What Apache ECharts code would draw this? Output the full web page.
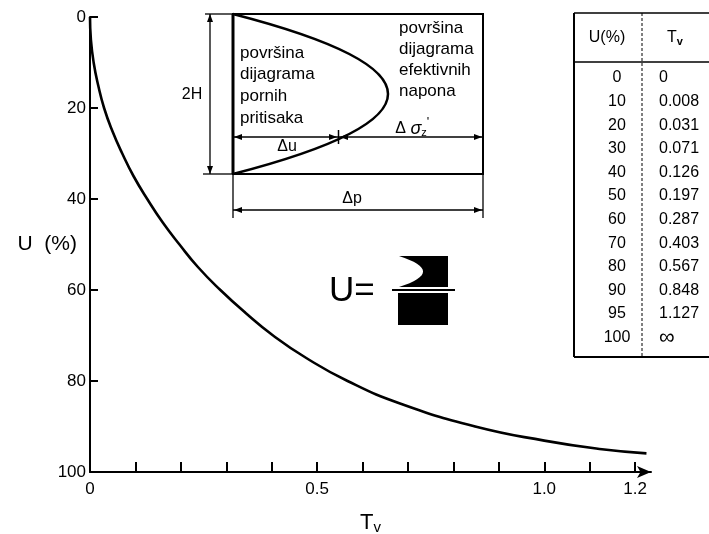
<!DOCTYPE html>
<html>
<head>
<meta charset="UTF-8">
<script src="https://cdn.jsdelivr.net/npm/echarts@6/dist/echarts.min.js"></script>
<style>
  html, body { margin: 0; padding: 0; background: #fff; }
  #main { width: 709px; height: 534px; }
</style>
</head>
<body>
<div id="main"></div>
<script type="text/javascript">
// curve U(%) vs Tv
var tv = [0, 0.002, 0.008, 0.018, 0.031, 0.049, 0.071, 0.096, 0.126, 0.159, 0.197, 0.238, 0.287, 0.342, 0.403, 0.477, 0.567, 0.684, 0.848, 1.0, 1.127, 1.225];
var u  = [0, 5, 10, 15, 20, 25, 30, 35, 40, 45, 50, 55, 60, 65, 70, 75, 80, 85, 90, 93.1, 95, 95.9];

var xTicks  = [0, 0.1, 0.2, 0.3, 0.4, 0.5, 0.6, 0.7, 0.8, 0.9, 1.0, 1.1, 1.2];
var xLabels = [0, 0.5, 1.0, 1.2];

// table on the right
var tableU  = ['0', '10', '20', '30', '40', '50', '60', '70', '80', '90', '95', '100'];
var tableTv = ['0', '0.008', '0.031', '0.071', '0.126', '0.197', '0.287', '0.403', '0.567', '0.848', '1.127', '\u221E'];

var FONT = '"Liberation Sans", Arial, Helvetica, sans-serif';

function ln(x1, y1, x2, y2, w, dash) {
    return { type: 'line', shape: { x1: x1, y1: y1, x2: x2, y2: y2 },
             style: { stroke: '#000', lineWidth: w || 1.3, lineDash: dash || null }, z: 10 };
}
// arrow head, tip at (x,y)
function arr(x, y, dir) {
    var L = 8, W = 3;
    var p;
    if (dir == 'l') p = [[x, y], [x + L, y - W], [x + L, y + W]];
    if (dir == 'r') p = [[x, y], [x - L, y - W], [x - L, y + W]];
    if (dir == 'u') p = [[x, y], [x - W, y + L], [x + W, y + L]];
    if (dir == 'd') p = [[x, y], [x - W, y - L], [x + W, y - L]];
    return { type: 'polygon', shape: { points: p }, style: { fill: '#000' }, z: 10 };
}
function txt(s, x, y, size, align, rich) {
    return { type: 'text', z: 10,
             style: { text: s, x: x, y: y, fill: '#000', font: size + 'px ' + FONT,
                      textAlign: align || 'left', textVerticalAlign: 'middle', rich: rich } };
}

var g = [];

// inset diagram
g.push({ type: 'rect', shape: { x: 233, y: 14, width: 250, height: 160 },
         style: { fill: 'none', stroke: '#000', lineWidth: 2 }, z: 10 });
g.push(ln(233, 14, 233, 174, 3));
g.push({ type: 'bezierCurve', shape: { x1: 233, y1: 14, cpx1: 543, cpy1: 94, x2: 233, y2: 174 },
         style: { stroke: '#000', lineWidth: 2.5, fill: 'none' }, z: 10 });
// 2H
g.push(ln(205, 14, 233, 14));
g.push(ln(203, 174, 233, 174));
g.push(ln(210, 14, 210, 174));
g.push(arr(210, 14, 'u'));
g.push(arr(210, 174, 'd'));
g.push(txt('2H', 192, 95, 16, 'center'));
// delta u / delta sigma
g.push(ln(233, 137, 483, 137));
g.push(arr(234, 137, 'l'));
g.push(arr(482, 137, 'r'));
g.push(arr(337, 137, 'r'));
g.push(arr(340, 137, 'l'));
g.push(ln(338.5, 130, 338.5, 144, 1.5));
// delta p
g.push(ln(233, 174, 233, 218));
g.push(ln(483, 174, 483, 218));
g.push(ln(233, 210, 483, 210));
g.push(arr(234, 210, 'l'));
g.push(arr(482, 210, 'r'));

['površina', 'dijagrama', 'pornih', 'pritisaka'].forEach(function (s, i) {
    g.push(txt(s, 240, 53 + i * 21.8, 17));
});
['površina', 'dijagrama', 'efektivnih', 'napona'].forEach(function (s, i) {
    g.push(txt(s, 399, 28 + i * 21, 17));
});
g.push(txt('\u0394u', 287, 147, 16, 'center'));
g.push(txt('\u0394p', 352, 199, 16, 'center'));
g.push(txt('{d|\u0394 }{s|\u03C3}{z|z}', 411, 129, 16, 'center', {
    d: { fontSize: 16, fontFamily: FONT },
    s: { fontSize: 18, fontStyle: 'italic', fontFamily: FONT },
    z: { fontSize: 11, fontFamily: FONT, verticalAlign: 'bottom', padding: [8, 0, 0, 0] }
}));
g.push(txt("'", 428, 122, 13, 'center'));

// U = formula
g.push(txt('U=', 329, 291, 35, 'left'));
g.push({ type: 'rect', shape: { x: 399, y: 256, width: 49, height: 31 }, style: { fill: '#000' }, z: 10 });
g.push({ type: 'bezierCurve', shape: { x1: 399, y1: 256, cpx1: 447, cpy1: 271.5, x2: 399, y2: 287 },
         style: { fill: '#fff', stroke: 'none' }, z: 11 });
g.push(ln(392, 290, 455, 290, 2));
g.push({ type: 'rect', shape: { x: 398, y: 293, width: 50, height: 32 }, style: { fill: '#000' }, z: 10 });

// table
g.push(ln(574, 13, 574, 357, 2));
g.push(ln(574, 13, 709, 13, 1.5));
g.push(ln(574, 62, 709, 62, 1.5));
g.push(ln(574, 357, 709, 357, 2));
g.push(ln(642, 13, 642, 357, 1, [3, 2]));
g.push(txt('U(%)', 607, 38, 16, 'center'));
g.push(txt('{t|T}{v|v}', 675, 38, 16, 'center', {
    t: { fontSize: 16, fontFamily: FONT },
    v: { fontSize: 11, fontFamily: FONT, fontWeight: 'bold', verticalAlign: 'bottom', padding: [8, 0, 0, 0] }
}));
for (var i = 0; i < tableU.length; i++) {
    g.push(txt(tableU[i], 617, 78 + i * 23.6, 16, 'center'));
    g.push(txt(tableTv[i], 659, 78 + i * 23.6, tableTv[i] == '\u221E' ? 22 : 16, 'left'));
}

var myChart = echarts.init(document.getElementById('main'));
var option = {
    animation: false,
    backgroundColor: '#fff',
    grid: { left: 90, right: 58, top: 17, bottom: 62, containLabel: false, outerBoundsMode: 'none' },
    xAxis: {
        type: 'value', position: 'bottom', min: 0, max: 1.235, interval: 0.1,
        axisLine: { onZero: false, lineStyle: { color: '#000', width: 2 }, symbol: ['none', 'arrow'], symbolSize: [9, 14] },
        axisTick: { inside: true, length: 10, lineStyle: { color: '#000', width: 2 }, customValues: xTicks },
        axisLabel: { customValues: xLabels, color: '#000', fontSize: 17, fontFamily: FONT, margin: 9,
                     formatter: function (v) { return v === 0 ? '0' : v.toFixed(1); } },
        splitLine: { show: false },
        name: '{t|T}{v|v}', nameLocation: 'middle', nameGap: 38,
        nameTextStyle: { rich: {
            t: { fontSize: 22, fontFamily: FONT, color: '#000' },
            v: { fontSize: 15, fontFamily: FONT, color: '#000', verticalAlign: 'bottom', padding: [10, 0, 0, 0] }
        } }
    },
    yAxis: {
        type: 'value', inverse: true, min: 0, max: 100, interval: 20,
        axisLine: { show: true, onZero: false, lineStyle: { color: '#000', width: 2 } },
        axisTick: { show: true, inside: true, length: 8, lineStyle: { color: '#000', width: 2 } },
        axisLabel: { color: '#000', fontSize: 17, fontFamily: FONT, margin: 4 },
        splitLine: { show: false },
        name: 'U  (%)', nameLocation: 'middle', nameRotate: 0, nameGap: 13, nameMoveOverlap: false,
        nameTextStyle: { color: '#000', fontSize: 21, fontFamily: FONT }
    },
    series: [{
        type: 'line', smooth: true, showSymbol: false, silent: true,
        lineStyle: { color: '#000', width: 2.6 },
        data: tv.map(function (t, i) { return [t, u[i]]; })
    }],
    graphic: { elements: g }
};
myChart.setOption(option);
</script>
</body>
</html>
